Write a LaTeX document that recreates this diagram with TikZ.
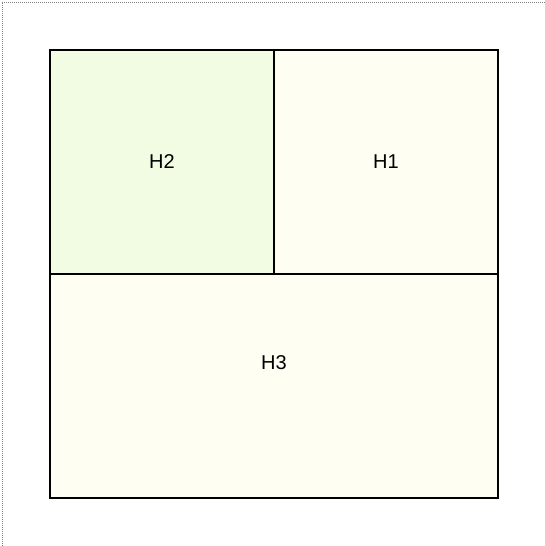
\documentclass[tikz,border=0pt]{standalone}
\usepackage{fontspec}
\setmainfont{Liberation Sans}
\usepackage{tikz}
\usetikzlibrary{positioning}

\definecolor{roomgreen}{RGB}{242,252,226}
\definecolor{roomivory}{RGB}{254,254,242}

\tikzset{
    room/.style={draw=black,line width=2pt},
    roomlabel/.style={font=\fontsize{20}{24}\selectfont,inner sep=0pt}
}

\begin{document}
\begin{tikzpicture}[x=1pt,y=-1pt]
        \useasboundingbox (0,0) rectangle (545,546);
        \draw[gray,line width=1pt,dash pattern=on 1pt off 1pt] (2,546)--(2,2)--(545,2);

        \draw[room,fill=roomgreen] (50,50) rectangle (274,274);
        \draw[room,fill=roomivory] (274,50) rectangle (498,274);
        \draw[room,fill=roomivory] (50,274) rectangle (498,498);

        \node[roomlabel] (h2) at (162,162) {H2};
        \node[roomlabel] (h1) at (386,162) {H1};
        \node[roomlabel] (h3) at (274,363) {H3};
    \end{tikzpicture}
\end{document}
